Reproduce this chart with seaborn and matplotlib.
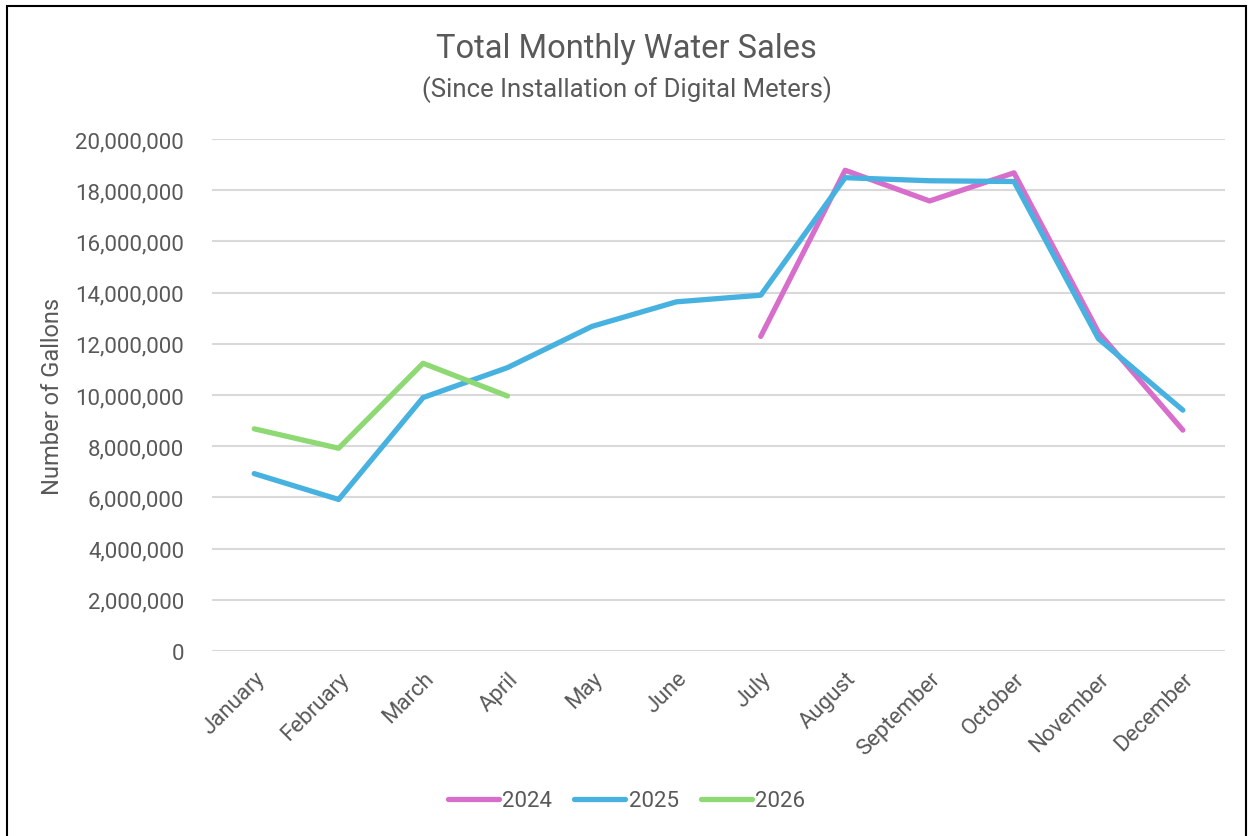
import seaborn as sns
import pandas as pd
import matplotlib
matplotlib.use("Agg")
from matplotlib import pyplot as plt
from matplotlib.patches import Rectangle
from matplotlib.ticker import FuncFormatter

months = ["January", "February", "March", "April", "May", "June",
          "July", "August", "September", "October", "November", "December"]

# (gallons)
sales_2024 = [None, None, None, None, None, None,
              12290000, 18780000, 17580000, 18680000, 12450000, 8630000]
sales_2025 = [6930000, 5920000, 9900000, 11070000, 12680000, 13640000,
              13900000, 18490000, 18370000, 18340000, 12200000, 9410000]
sales_2026 = [8680000, 7920000, 11240000, 9960000, None, None,
              None, None, None, None, None, None]

rows = []
for yr, vals in (("2024", sales_2024), ("2025", sales_2025), ("2026", sales_2026)):
    for m, v in zip(months, vals):
        if v is not None:
            rows.append({"month": m, "year": yr, "gallons": v})
df = pd.DataFrame(rows)
df["month"] = pd.Categorical(df["month"], categories=months, ordered=True)
df["pos"] = df["month"].cat.codes

colors = {"2024": "#D86ECC", "2025": "#47B2E0", "2026": "#8ED973"}

sns.set_style("white")
plt.rcParams["font.family"] = ["Roboto", "DejaVu Sans"]
txt = "#595959"

fig = plt.figure(figsize=(12.53, 8.37), dpi=100)
ax = fig.add_axes([0.1692, 0.221, 0.8085, 0.6117])

sns.lineplot(data=df, x="pos", y="gallons", hue="year", palette=colors,
             linewidth=3.8, sort=True, ax=ax, solid_capstyle="round")

ax.set_xlim(-0.5, 11.5)
ax.set_ylim(0, 20000000)
ax.set_yticks(range(0, 20000001, 2000000))
ax.yaxis.set_major_formatter(FuncFormatter(lambda v, p: f"{int(v):,}"))
ax.set_xticks(range(12))
ax.set_xticklabels(months, rotation=45, ha="right", rotation_mode="anchor")
ax.tick_params(axis="both", colors=txt, labelsize=16, length=0)
ax.tick_params(axis="y", pad=20)
ax.tick_params(axis="x", pad=12)
ax.grid(axis="y", color="#D9D9D9", linewidth=1.5)
ax.set_axisbelow(True)
for s in ax.spines.values():
    s.set_visible(False)
ax.set_xlabel("")
ax.set_ylabel("Number of Gallons", color=txt, fontsize=17, labelpad=8)

leg = ax.legend(loc="center", bbox_to_anchor=(0.5, 35 / 837), bbox_transform=fig.transFigure,
                ncol=3, frameon=False, fontsize=16, handlelength=2.3,
                handletextpad=0.15, columnspacing=1.0)
for t in leg.get_texts():
    t.set_color(txt)
for h in leg.get_lines():
    h.set_linewidth(3.8)
    h.set_solid_capstyle("round")

fig.text(0.5, 1 - 49 / 837, "Total Monthly Water Sales", ha="center", va="center",
         fontsize=23.5, color=txt)
fig.text(0.5, 1 - 90 / 837, "(Since Installation of Digital Meters)", ha="center",
         va="center", fontsize=18.5, color=txt)

fig.patches.append(Rectangle((7 / 1253, -0.05), 1239 / 1253, 1.05 - 7 / 837,
                             transform=fig.transFigure, fill=False,
                             edgecolor="black", linewidth=1.5))

fig.savefig("out.png", dpi=100)
